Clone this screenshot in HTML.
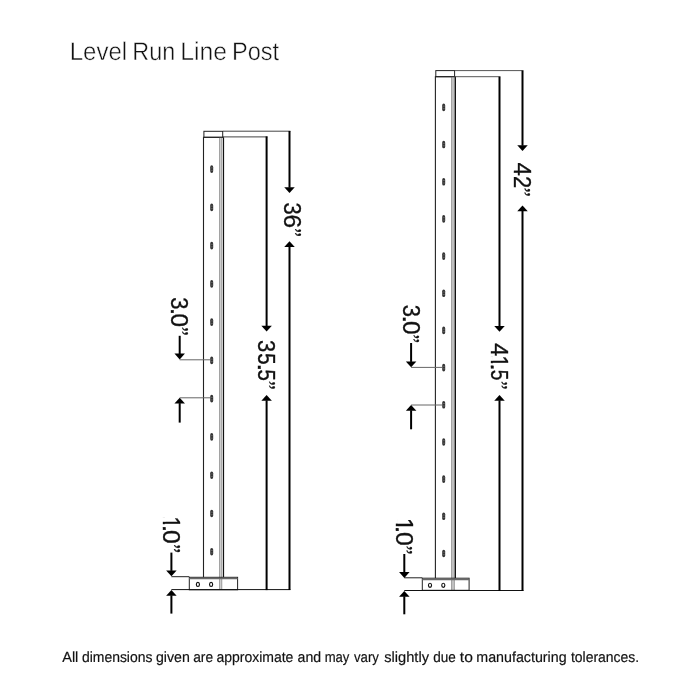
<!DOCTYPE html>
<html lang="en">
<head>
<meta charset="utf-8">
<title>Level Run Line Post</title>
<style>
html,body{margin:0;padding:0;background:#fff;}
body{width:700px;height:700px;overflow:hidden;position:relative;font-family:"Liberation Sans",sans-serif;}
svg{position:absolute;left:0;top:0;display:block;will-change:transform;}
svg text{font-family:"Liberation Sans",sans-serif;fill:#111;}
svg .dim text{stroke:#111;stroke-width:0.35px;}
</style>
</head>
<body>
<svg width="700" height="700" viewBox="0 0 700 700">
<rect width="700" height="700" fill="#fff"/>
<text y="60" font-size="25.4" id="title" fill="#222" stroke="#fff" stroke-width="0.45" text-rendering="geometricPrecision"><tspan x="69.69" textLength="57.44" lengthAdjust="spacingAndGlyphs">Level</tspan> <tspan x="132.24" textLength="42.93" lengthAdjust="spacingAndGlyphs">Run</tspan> <tspan x="180.13" textLength="46.79" lengthAdjust="spacingAndGlyphs">Line</tspan> <tspan x="231.93" textLength="47.15" lengthAdjust="spacingAndGlyphs">Post</tspan></text>
<rect x="203.9" y="131.3" width="18.8" height="6.0" fill="#fff" stroke="#222" stroke-width="1"/>
<rect x="219.0" y="137.3" width="3.20" height="452.50" fill="#d2d2d2"/>
<rect x="219.0" y="137.3" width="1.09" height="452.50" fill="#a2a2a2"/>
<rect x="221.05" y="137.3" width="1.15" height="452.50" fill="#a8a8a8"/>
<line x1="203.5" y1="137.3" x2="203.5" y2="577.3" stroke="#222" stroke-width="1.1"/>
<line x1="223.5" y1="137.3" x2="223.5" y2="577.3" stroke="#111" stroke-width="1.2"/>
<line x1="203.0" y1="137.3" x2="224.0" y2="137.3" stroke="#222" stroke-width="1.1"/>
<rect x="210.20" y="165.30" width="3" height="7.6" rx="1.5" ry="1.9" fill="#333"/>
<line x1="210.80" y1="167.85" x2="212.80" y2="167.85" stroke="#8a8a8a" stroke-width="0.55"/>
<line x1="210.80" y1="170.35" x2="212.80" y2="170.35" stroke="#8a8a8a" stroke-width="0.55"/>
<rect x="210.20" y="203.56" width="3" height="7.6" rx="1.5" ry="1.9" fill="#333"/>
<line x1="210.80" y1="206.11" x2="212.80" y2="206.11" stroke="#8a8a8a" stroke-width="0.55"/>
<line x1="210.80" y1="208.61" x2="212.80" y2="208.61" stroke="#8a8a8a" stroke-width="0.55"/>
<rect x="210.20" y="241.82" width="3" height="7.6" rx="1.5" ry="1.9" fill="#333"/>
<line x1="210.80" y1="244.37" x2="212.80" y2="244.37" stroke="#8a8a8a" stroke-width="0.55"/>
<line x1="210.80" y1="246.87" x2="212.80" y2="246.87" stroke="#8a8a8a" stroke-width="0.55"/>
<rect x="210.20" y="280.08" width="3" height="7.6" rx="1.5" ry="1.9" fill="#333"/>
<line x1="210.80" y1="282.63" x2="212.80" y2="282.63" stroke="#8a8a8a" stroke-width="0.55"/>
<line x1="210.80" y1="285.13" x2="212.80" y2="285.13" stroke="#8a8a8a" stroke-width="0.55"/>
<rect x="210.20" y="318.34" width="3" height="7.6" rx="1.5" ry="1.9" fill="#333"/>
<line x1="210.80" y1="320.89" x2="212.80" y2="320.89" stroke="#8a8a8a" stroke-width="0.55"/>
<line x1="210.80" y1="323.39" x2="212.80" y2="323.39" stroke="#8a8a8a" stroke-width="0.55"/>
<rect x="210.20" y="356.60" width="3" height="7.6" rx="1.5" ry="1.9" fill="#333"/>
<line x1="210.80" y1="359.15" x2="212.80" y2="359.15" stroke="#8a8a8a" stroke-width="0.55"/>
<line x1="210.80" y1="361.65" x2="212.80" y2="361.65" stroke="#8a8a8a" stroke-width="0.55"/>
<rect x="210.20" y="394.86" width="3" height="7.6" rx="1.5" ry="1.9" fill="#333"/>
<line x1="210.80" y1="397.41" x2="212.80" y2="397.41" stroke="#8a8a8a" stroke-width="0.55"/>
<line x1="210.80" y1="399.91" x2="212.80" y2="399.91" stroke="#8a8a8a" stroke-width="0.55"/>
<rect x="210.20" y="433.12" width="3" height="7.6" rx="1.5" ry="1.9" fill="#333"/>
<line x1="210.80" y1="435.67" x2="212.80" y2="435.67" stroke="#8a8a8a" stroke-width="0.55"/>
<line x1="210.80" y1="438.17" x2="212.80" y2="438.17" stroke="#8a8a8a" stroke-width="0.55"/>
<rect x="210.20" y="471.38" width="3" height="7.6" rx="1.5" ry="1.9" fill="#333"/>
<line x1="210.80" y1="473.93" x2="212.80" y2="473.93" stroke="#8a8a8a" stroke-width="0.55"/>
<line x1="210.80" y1="476.43" x2="212.80" y2="476.43" stroke="#8a8a8a" stroke-width="0.55"/>
<rect x="210.20" y="509.64" width="3" height="7.6" rx="1.5" ry="1.9" fill="#333"/>
<line x1="210.80" y1="512.19" x2="212.80" y2="512.19" stroke="#8a8a8a" stroke-width="0.55"/>
<line x1="210.80" y1="514.69" x2="212.80" y2="514.69" stroke="#8a8a8a" stroke-width="0.55"/>
<rect x="210.20" y="547.90" width="3" height="7.6" rx="1.5" ry="1.9" fill="#333"/>
<line x1="210.80" y1="550.45" x2="212.80" y2="550.45" stroke="#8a8a8a" stroke-width="0.55"/>
<line x1="210.80" y1="552.95" x2="212.80" y2="552.95" stroke="#8a8a8a" stroke-width="0.55"/>
<rect x="189.3" y="577.3" width="48.29999999999998" height="12.5" fill="none" stroke="#222" stroke-width="1"/>
<line x1="189.3" y1="578.50" x2="237.6" y2="578.50" stroke="#686868" stroke-width="1.7"/>
<ellipse cx="197.9" cy="584.4" rx="1.55" ry="2.05" fill="#fff" stroke="#111" stroke-width="1.15"/>
<ellipse cx="211.1" cy="584.4" rx="1.55" ry="2.05" fill="#fff" stroke="#111" stroke-width="1.15"/>
<line x1="223" y1="131.2" x2="290.4" y2="131.2" stroke="#444" stroke-width="1"/>
<line x1="223" y1="136.9" x2="267.4" y2="136.9" stroke="#444" stroke-width="1"/>
<line x1="171.4" y1="589.6" x2="290.4" y2="589.6" stroke="#111" stroke-width="1"/>
<line x1="171.4" y1="576.7" x2="189.3" y2="576.7" stroke="#222" stroke-width="1"/>
<line x1="179.7" y1="359.8" x2="210" y2="359.8" stroke="#666" stroke-width="1"/>
<line x1="179.7" y1="397.8" x2="210" y2="397.8" stroke="#666" stroke-width="1"/>
<line x1="289.5" y1="131" x2="289.5" y2="187.7" stroke="#000" stroke-width="2"/><polygon points="284.25,187.2 294.75,187.2 289.5,193" fill="#000"/>
<line x1="289.5" y1="590.1" x2="289.5" y2="246.5" stroke="#000" stroke-width="2"/><polygon points="284.25,247.0 294.75,247.0 289.5,241.2" fill="#000"/>
<line x1="266.6" y1="136.4" x2="266.6" y2="326.2" stroke="#000" stroke-width="2"/><polygon points="261.35,325.7 271.85,325.7 266.6,331.5" fill="#000"/>
<line x1="266.6" y1="590.1" x2="266.6" y2="400.3" stroke="#000" stroke-width="2"/><polygon points="261.35,400.8 271.85,400.8 266.6,395" fill="#000"/>
<line x1="179.7" y1="335.8" x2="179.7" y2="354.09999999999997" stroke="#000" stroke-width="2"/><polygon points="174.45,353.59999999999997 184.95,353.59999999999997 179.7,359.4" fill="#000"/>
<line x1="179.7" y1="422.6" x2="179.7" y2="403.1" stroke="#000" stroke-width="2"/><polygon points="174.45,403.6 184.95,403.6 179.7,397.8" fill="#000"/>
<line x1="171.4" y1="552.6" x2="171.4" y2="570.9000000000001" stroke="#000" stroke-width="2"/><polygon points="166.15,570.4000000000001 176.65,570.4000000000001 171.4,576.2" fill="#000"/>
<line x1="171.4" y1="613.6" x2="171.4" y2="595.3" stroke="#000" stroke-width="2"/><polygon points="166.15,595.8 176.65,595.8 171.4,590" fill="#000"/>
<g class="dim" transform="translate(283.6,203.4) rotate(90)"><text font-size="24.6"><tspan x="-0.88" y="0" textLength="12.19" lengthAdjust="spacingAndGlyphs">3</tspan><tspan x="11.18" y="0" textLength="13.54" lengthAdjust="spacingAndGlyphs">6</tspan><tspan font-family="Liberation Serif, serif" font-size="22.5" x="24.92" y="-2.26" textLength="8.63" lengthAdjust="spacingAndGlyphs">”</tspan></text></g>
<g class="dim" transform="translate(257.6,341) rotate(90)"><text font-size="24.6"><tspan x="-0.88" y="0" textLength="12.19" lengthAdjust="spacingAndGlyphs">3</tspan><tspan x="12.18" y="0" textLength="11.36" lengthAdjust="spacingAndGlyphs">5</tspan><tspan x="22.15" y="0" textLength="8.19" lengthAdjust="spacingAndGlyphs">.</tspan><tspan x="28.48" y="0" textLength="11.36" lengthAdjust="spacingAndGlyphs">5</tspan><tspan font-family="Liberation Serif, serif" font-size="22.5" x="39.92" y="-2.26" textLength="8.63" lengthAdjust="spacingAndGlyphs">”</tspan></text></g>
<g class="dim" transform="translate(171.1,298.1) rotate(90)"><text font-size="24.6"><tspan x="-0.88" y="0" textLength="12.19" lengthAdjust="spacingAndGlyphs">3</tspan><tspan x="9.54" y="0" textLength="7.61" lengthAdjust="spacingAndGlyphs">.</tspan><tspan x="15.32" y="0" textLength="13.58" lengthAdjust="spacingAndGlyphs">0</tspan><tspan font-family="Liberation Serif, serif" font-size="22.5" x="28.82" y="-2.26" textLength="8.63" lengthAdjust="spacingAndGlyphs">”</tspan></text></g>
<g class="dim" transform="translate(163,518.5) rotate(90)"><text font-size="24.6"><tspan x="-2.13" y="0" textLength="12.48" lengthAdjust="spacingAndGlyphs">1</tspan><tspan x="6.72" y="0" textLength="6.73" lengthAdjust="spacingAndGlyphs">.</tspan><tspan x="11.51" y="0" textLength="13.82" lengthAdjust="spacingAndGlyphs">0</tspan><tspan font-family="Liberation Serif, serif" font-size="22.5" x="25.71" y="-2.26" textLength="8.75" lengthAdjust="spacingAndGlyphs">”</tspan></text><rect x="-1.23" y="-2.34" width="4.53" height="3.44" fill="#fff"/><rect x="5.68" y="-2.34" width="2.87" height="3.44" fill="#fff"/></g>
<rect x="435.79999999999995" y="70.6" width="18.8" height="6.1000000000000085" fill="#fff" stroke="#222" stroke-width="1"/>
<rect x="451.0" y="76.7" width="4.00" height="513.60" fill="#d2d2d2"/>
<rect x="451.0" y="76.7" width="1.36" height="513.60" fill="#a2a2a2"/>
<rect x="453.56" y="76.7" width="1.44" height="513.60" fill="#a8a8a8"/>
<line x1="435.4" y1="76.7" x2="435.4" y2="578.2" stroke="#222" stroke-width="1.1"/>
<line x1="455.4" y1="76.7" x2="455.4" y2="578.2" stroke="#111" stroke-width="1.2"/>
<line x1="434.9" y1="76.7" x2="455.9" y2="76.7" stroke="#222" stroke-width="1.1"/>
<rect x="442.20" y="103.60" width="3" height="7.6" rx="1.5" ry="1.9" fill="#333"/>
<line x1="442.80" y1="106.15" x2="444.80" y2="106.15" stroke="#8a8a8a" stroke-width="0.55"/>
<line x1="442.80" y1="108.65" x2="444.80" y2="108.65" stroke="#8a8a8a" stroke-width="0.55"/>
<rect x="442.20" y="140.77" width="3" height="7.6" rx="1.5" ry="1.9" fill="#333"/>
<line x1="442.80" y1="143.32" x2="444.80" y2="143.32" stroke="#8a8a8a" stroke-width="0.55"/>
<line x1="442.80" y1="145.82" x2="444.80" y2="145.82" stroke="#8a8a8a" stroke-width="0.55"/>
<rect x="442.20" y="177.94" width="3" height="7.6" rx="1.5" ry="1.9" fill="#333"/>
<line x1="442.80" y1="180.49" x2="444.80" y2="180.49" stroke="#8a8a8a" stroke-width="0.55"/>
<line x1="442.80" y1="182.99" x2="444.80" y2="182.99" stroke="#8a8a8a" stroke-width="0.55"/>
<rect x="442.20" y="215.11" width="3" height="7.6" rx="1.5" ry="1.9" fill="#333"/>
<line x1="442.80" y1="217.66" x2="444.80" y2="217.66" stroke="#8a8a8a" stroke-width="0.55"/>
<line x1="442.80" y1="220.16" x2="444.80" y2="220.16" stroke="#8a8a8a" stroke-width="0.55"/>
<rect x="442.20" y="252.28" width="3" height="7.6" rx="1.5" ry="1.9" fill="#333"/>
<line x1="442.80" y1="254.83" x2="444.80" y2="254.83" stroke="#8a8a8a" stroke-width="0.55"/>
<line x1="442.80" y1="257.33" x2="444.80" y2="257.33" stroke="#8a8a8a" stroke-width="0.55"/>
<rect x="442.20" y="289.45" width="3" height="7.6" rx="1.5" ry="1.9" fill="#333"/>
<line x1="442.80" y1="292.00" x2="444.80" y2="292.00" stroke="#8a8a8a" stroke-width="0.55"/>
<line x1="442.80" y1="294.50" x2="444.80" y2="294.50" stroke="#8a8a8a" stroke-width="0.55"/>
<rect x="442.20" y="326.62" width="3" height="7.6" rx="1.5" ry="1.9" fill="#333"/>
<line x1="442.80" y1="329.17" x2="444.80" y2="329.17" stroke="#8a8a8a" stroke-width="0.55"/>
<line x1="442.80" y1="331.67" x2="444.80" y2="331.67" stroke="#8a8a8a" stroke-width="0.55"/>
<rect x="442.20" y="363.79" width="3" height="7.6" rx="1.5" ry="1.9" fill="#333"/>
<line x1="442.80" y1="366.34" x2="444.80" y2="366.34" stroke="#8a8a8a" stroke-width="0.55"/>
<line x1="442.80" y1="368.84" x2="444.80" y2="368.84" stroke="#8a8a8a" stroke-width="0.55"/>
<rect x="442.20" y="400.96" width="3" height="7.6" rx="1.5" ry="1.9" fill="#333"/>
<line x1="442.80" y1="403.51" x2="444.80" y2="403.51" stroke="#8a8a8a" stroke-width="0.55"/>
<line x1="442.80" y1="406.01" x2="444.80" y2="406.01" stroke="#8a8a8a" stroke-width="0.55"/>
<rect x="442.20" y="438.13" width="3" height="7.6" rx="1.5" ry="1.9" fill="#333"/>
<line x1="442.80" y1="440.68" x2="444.80" y2="440.68" stroke="#8a8a8a" stroke-width="0.55"/>
<line x1="442.80" y1="443.18" x2="444.80" y2="443.18" stroke="#8a8a8a" stroke-width="0.55"/>
<rect x="442.20" y="475.30" width="3" height="7.6" rx="1.5" ry="1.9" fill="#333"/>
<line x1="442.80" y1="477.85" x2="444.80" y2="477.85" stroke="#8a8a8a" stroke-width="0.55"/>
<line x1="442.80" y1="480.35" x2="444.80" y2="480.35" stroke="#8a8a8a" stroke-width="0.55"/>
<rect x="442.20" y="512.47" width="3" height="7.6" rx="1.5" ry="1.9" fill="#333"/>
<line x1="442.80" y1="515.02" x2="444.80" y2="515.02" stroke="#8a8a8a" stroke-width="0.55"/>
<line x1="442.80" y1="517.52" x2="444.80" y2="517.52" stroke="#8a8a8a" stroke-width="0.55"/>
<rect x="442.20" y="549.64" width="3" height="7.6" rx="1.5" ry="1.9" fill="#333"/>
<line x1="442.80" y1="552.19" x2="444.80" y2="552.19" stroke="#8a8a8a" stroke-width="0.55"/>
<line x1="442.80" y1="554.69" x2="444.80" y2="554.69" stroke="#8a8a8a" stroke-width="0.55"/>
<rect x="422.3" y="578.2" width="46.80000000000001" height="12.099999999999909" fill="none" stroke="#222" stroke-width="1"/>
<line x1="422.3" y1="579.40" x2="469.1" y2="579.40" stroke="#686868" stroke-width="1.7"/>
<ellipse cx="430" cy="585.3" rx="1.55" ry="2.05" fill="#fff" stroke="#111" stroke-width="1.15"/>
<ellipse cx="443.3" cy="585.3" rx="1.55" ry="2.05" fill="#fff" stroke="#111" stroke-width="1.15"/>
<line x1="455" y1="70.6" x2="523.4" y2="70.6" stroke="#555" stroke-width="1"/>
<line x1="455" y1="76.7" x2="500.4" y2="76.7" stroke="#555" stroke-width="1"/>
<line x1="404.3" y1="590.5" x2="523.4" y2="590.5" stroke="#111" stroke-width="1"/>
<line x1="404.3" y1="577.8" x2="422.3" y2="577.8" stroke="#222" stroke-width="1"/>
<line x1="411.1" y1="367.4" x2="442" y2="367.4" stroke="#666" stroke-width="1"/>
<line x1="411.1" y1="405" x2="442" y2="405" stroke="#666" stroke-width="1"/>
<line x1="522.5" y1="70.6" x2="522.5" y2="145.7" stroke="#000" stroke-width="2"/><polygon points="517.25,145.2 527.75,145.2 522.5,151" fill="#000"/>
<line x1="522.5" y1="591" x2="522.5" y2="210.70000000000002" stroke="#000" stroke-width="2"/><polygon points="517.25,211.20000000000002 527.75,211.20000000000002 522.5,205.4" fill="#000"/>
<line x1="499.5" y1="76.7" x2="499.5" y2="326.5" stroke="#000" stroke-width="2"/><polygon points="494.25,326.0 504.75,326.0 499.5,331.8" fill="#000"/>
<line x1="499.5" y1="591" x2="499.5" y2="400.3" stroke="#000" stroke-width="2"/><polygon points="494.25,400.8 504.75,400.8 499.5,395" fill="#000"/>
<line x1="411.1" y1="343" x2="411.1" y2="361.9" stroke="#000" stroke-width="2"/><polygon points="405.85,361.4 416.35,361.4 411.1,367.2" fill="#000"/>
<line x1="411.1" y1="429.3" x2="411.1" y2="410.3" stroke="#000" stroke-width="2"/><polygon points="405.85,410.8 416.35,410.8 411.1,405" fill="#000"/>
<line x1="404.3" y1="554" x2="404.3" y2="572.6" stroke="#000" stroke-width="2"/><polygon points="399.05,572.1 409.55,572.1 404.3,577.9" fill="#000"/>
<line x1="404.3" y1="614.3" x2="404.3" y2="596.3" stroke="#000" stroke-width="2"/><polygon points="399.05,596.8 409.55,596.8 404.3,591" fill="#000"/>
<g class="dim" transform="translate(514,163.1) rotate(90)"><text font-size="23.7"><tspan x="-0.60" y="0" textLength="13.35" lengthAdjust="spacingAndGlyphs">4</tspan><tspan x="12.80" y="0" textLength="12.22" lengthAdjust="spacingAndGlyphs">2</tspan><tspan font-family="Liberation Serif, serif" font-size="22" x="24.59" y="-1.96" textLength="9.00" lengthAdjust="spacingAndGlyphs">”</tspan></text></g>
<g class="dim" transform="translate(490.7,343.8) rotate(90)"><text font-size="24.0"><tspan x="-0.58" y="0" textLength="13.01" lengthAdjust="spacingAndGlyphs">4</tspan><tspan x="11.57" y="0" textLength="12.48" lengthAdjust="spacingAndGlyphs">1</tspan><tspan x="19.63" y="0" textLength="7.31" lengthAdjust="spacingAndGlyphs">.</tspan><tspan x="25.94" y="0" textLength="10.54" lengthAdjust="spacingAndGlyphs">5</tspan><tspan font-family="Liberation Serif, serif" font-size="22" x="37.47" y="-2.17" textLength="8.13" lengthAdjust="spacingAndGlyphs">”</tspan></text><rect x="12.47" y="-2.28" width="4.53" height="3.36" fill="#fff"/><rect x="19.38" y="-2.28" width="2.27" height="3.36" fill="#fff"/></g>
<g class="dim" transform="translate(402.7,305.7) rotate(90)"><text font-size="24.0"><tspan x="-0.88" y="0" textLength="12.19" lengthAdjust="spacingAndGlyphs">3</tspan><tspan x="9.44" y="0" textLength="7.90" lengthAdjust="spacingAndGlyphs">.</tspan><tspan x="15.32" y="0" textLength="13.58" lengthAdjust="spacingAndGlyphs">0</tspan><tspan font-family="Liberation Serif, serif" font-size="22" x="28.83" y="-2.17" textLength="8.50" lengthAdjust="spacingAndGlyphs">”</tspan></text></g>
<g class="dim" transform="translate(395.7,520) rotate(90)"><text font-size="24.0"><tspan x="-2.33" y="0" textLength="13.62" lengthAdjust="spacingAndGlyphs">1</tspan><tspan x="6.22" y="0" textLength="6.73" lengthAdjust="spacingAndGlyphs">.</tspan><tspan x="12.01" y="0" textLength="13.82" lengthAdjust="spacingAndGlyphs">0</tspan><tspan font-family="Liberation Serif, serif" font-size="22" x="25.71" y="-2.17" textLength="8.75" lengthAdjust="spacingAndGlyphs">”</tspan></text><rect x="-1.35" y="-2.28" width="4.95" height="3.36" fill="#fff"/><rect x="6.20" y="-2.28" width="1.85" height="3.36" fill="#fff"/></g>
<text y="662" font-size="14.7" id="foot" fill="#1a1a1a" stroke="#1a1a1a" stroke-width="0.2" text-rendering="geometricPrecision"><tspan x="62.18" textLength="16.18" lengthAdjust="spacingAndGlyphs">All</tspan> <tspan x="81.91" textLength="70.56" lengthAdjust="spacingAndGlyphs">dimensions</tspan> <tspan x="156.00" textLength="33.86" lengthAdjust="spacingAndGlyphs">given</tspan> <tspan x="193.22" textLength="19.87" lengthAdjust="spacingAndGlyphs">are</tspan> <tspan x="216.41" textLength="77.00" lengthAdjust="spacingAndGlyphs">approximate</tspan> <tspan x="297.60" textLength="23.59" lengthAdjust="spacingAndGlyphs">and</tspan> <tspan x="324.71" textLength="24.71" lengthAdjust="spacingAndGlyphs">may</tspan> <tspan x="353.99" textLength="24.93" lengthAdjust="spacingAndGlyphs">vary</tspan> <tspan x="384.20" textLength="44.86" lengthAdjust="spacingAndGlyphs">slightly</tspan> <tspan x="433.32" textLength="22.57" lengthAdjust="spacingAndGlyphs">due</tspan> <tspan x="459.83" textLength="13.04" lengthAdjust="spacingAndGlyphs">to</tspan> <tspan x="476.33" textLength="90.26" lengthAdjust="spacingAndGlyphs">manufacturing</tspan> <tspan x="570.96" textLength="68.27" lengthAdjust="spacingAndGlyphs">tolerances.</tspan></text>
</svg>
</body>
</html>
